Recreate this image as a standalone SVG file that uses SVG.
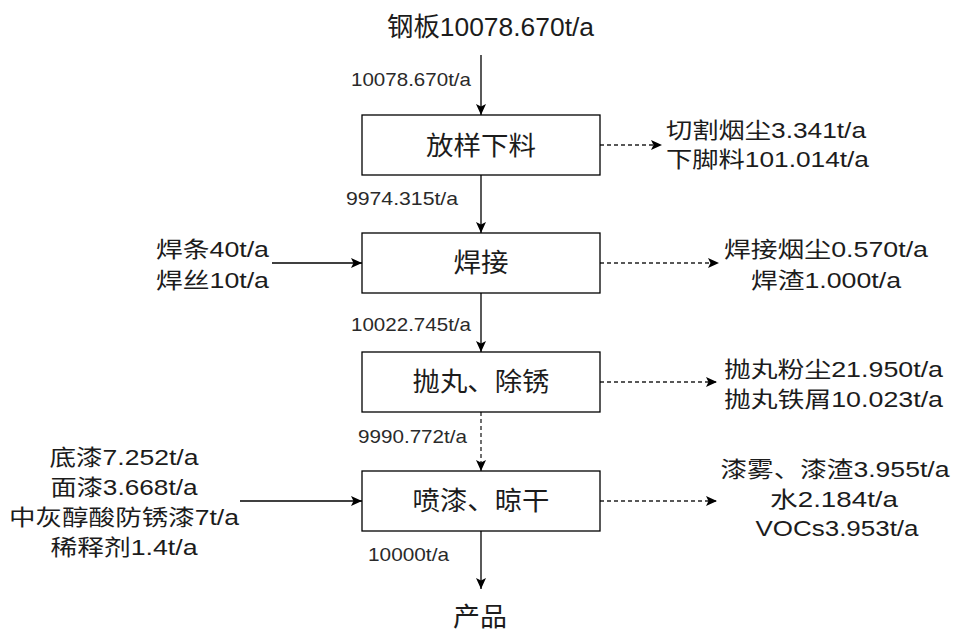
<svg xmlns="http://www.w3.org/2000/svg" width="955" height="632" viewBox="0 0 955 632">
<defs>
<marker id="arr" markerUnits="userSpaceOnUse" markerWidth="12" markerHeight="11" viewBox="0 0 12 11" refX="11" refY="5.5" orient="auto">
<path d="M0,0.5 L11,5.5 L0,10.5 L2.5,5.5 Z" fill="#000"/>
</marker>
</defs>
<style>
text{font-family:"Liberation Sans","Noto Sans CJK SC",sans-serif;fill:#1c1c1c;}
.big{font-size:26px;}
.lab{font-size:22px;}
.flow{font-size:19px;fill:#2a2a2a;}
.box{fill:#fff;stroke:#000;stroke-width:1.3;}
.c{fill:none;stroke:#000;stroke-width:1.3;marker-end:url(#arr);}
.d{fill:none;stroke:#222;stroke-width:1.3;stroke-dasharray:4 3;marker-end:url(#arr);}
</style>
<rect width="955" height="632" fill="#fff"/>
<g id="connectors">
<path class="c" d="M481,55 L481,115"/>
<path class="c" d="M481,175 L481,233"/>
<path class="c" d="M481,293 L481,352"/>
<path class="d" d="M481,412 L481,471"/>
<path class="c" d="M481,531 L481,589"/>
<path class="c" d="M272,263 L362,263"/>
<path class="c" d="M240,501 L362,501"/>
<path class="d" d="M600,145 L662,145"/>
<path class="d" d="M600,263 L719,263"/>
<path class="d" d="M600,382 L717,382"/>
<path class="d" d="M600,501 L717,501"/>
<text class="flow" x="351" y="86" textLength="120" lengthAdjust="spacingAndGlyphs">10078.670t/a</text>
<text class="flow" x="346" y="205" textLength="112" lengthAdjust="spacingAndGlyphs">9974.315t/a</text>
<text class="flow" x="351" y="331" textLength="120" lengthAdjust="spacingAndGlyphs">10022.745t/a</text>
<text class="flow" x="358" y="443" textLength="109" lengthAdjust="spacingAndGlyphs">9990.772t/a</text>
<text class="flow" x="368" y="561" textLength="81" lengthAdjust="spacingAndGlyphs">10000t/a</text>
</g>
<g id="n_title"><text class="big" x="387" y="36" textLength="207" lengthAdjust="spacingAndGlyphs">钢板10078.670t/a</text></g>
<g id="n1">
<rect class="box" x="362" y="115" width="238" height="60"/>
<text class="big" x="481" y="155" text-anchor="middle" textLength="110" lengthAdjust="spacingAndGlyphs">放样下料</text>
</g>
<g id="n2">
<rect class="box" x="362" y="233" width="238" height="60"/>
<text class="big" x="481" y="272" text-anchor="middle" textLength="55" lengthAdjust="spacingAndGlyphs">焊接</text>
</g>
<g id="n3">
<rect class="box" x="362" y="352" width="238" height="60"/>
<text class="big" x="481" y="391" text-anchor="middle" textLength="137" lengthAdjust="spacingAndGlyphs">抛丸、除锈</text>
</g>
<g id="n4">
<rect class="box" x="362" y="471" width="238" height="60"/>
<text class="big" x="481" y="510" text-anchor="middle" textLength="137" lengthAdjust="spacingAndGlyphs">喷漆、晾干</text>
</g>
<g id="n_product"><text class="big" x="480" y="626" text-anchor="middle" textLength="54" lengthAdjust="spacingAndGlyphs">产品</text></g>
<g id="in_weld">
<text class="lab" x="156" y="257" textLength="113" lengthAdjust="spacingAndGlyphs">焊条40t/a</text>
<text class="lab" x="156" y="288" textLength="113" lengthAdjust="spacingAndGlyphs">焊丝10t/a</text>
</g>
<g id="in_paint">
<text class="lab" x="124" y="465" text-anchor="middle" textLength="149" lengthAdjust="spacingAndGlyphs">底漆7.252t/a</text>
<text class="lab" x="124" y="495" text-anchor="middle" textLength="147" lengthAdjust="spacingAndGlyphs">面漆3.668t/a</text>
<text class="lab" x="124" y="525" text-anchor="middle" textLength="230" lengthAdjust="spacingAndGlyphs">中灰醇酸防锈漆7t/a</text>
<text class="lab" x="124" y="555" text-anchor="middle" textLength="147" lengthAdjust="spacingAndGlyphs">稀释剂1.4t/a</text>
</g>
<g id="out_cut">
<text class="lab" x="666" y="138" textLength="200" lengthAdjust="spacingAndGlyphs">切割烟尘3.341t/a</text>
<text class="lab" x="666" y="167" textLength="203" lengthAdjust="spacingAndGlyphs">下脚料101.014t/a</text>
</g>
<g id="out_weld">
<text class="lab" x="826" y="257" text-anchor="middle" textLength="204" lengthAdjust="spacingAndGlyphs">焊接烟尘0.570t/a</text>
<text class="lab" x="826" y="288" text-anchor="middle" textLength="150" lengthAdjust="spacingAndGlyphs">焊渣1.000t/a</text>
</g>
<g id="out_blast">
<text class="lab" x="724" y="377" textLength="219" lengthAdjust="spacingAndGlyphs">抛丸粉尘21.950t/a</text>
<text class="lab" x="724" y="407" textLength="219" lengthAdjust="spacingAndGlyphs">抛丸铁屑10.023t/a</text>
</g>
<g id="out_paint">
<text class="lab" x="835" y="477" text-anchor="middle" textLength="229" lengthAdjust="spacingAndGlyphs">漆雾、漆渣3.955t/a</text>
<text class="lab" x="834" y="507" text-anchor="middle" textLength="128" lengthAdjust="spacingAndGlyphs">水2.184t/a</text>
<text class="lab" x="837" y="536" text-anchor="middle" textLength="163" lengthAdjust="spacingAndGlyphs">VOCs3.953t/a</text>
</g>
</svg>
